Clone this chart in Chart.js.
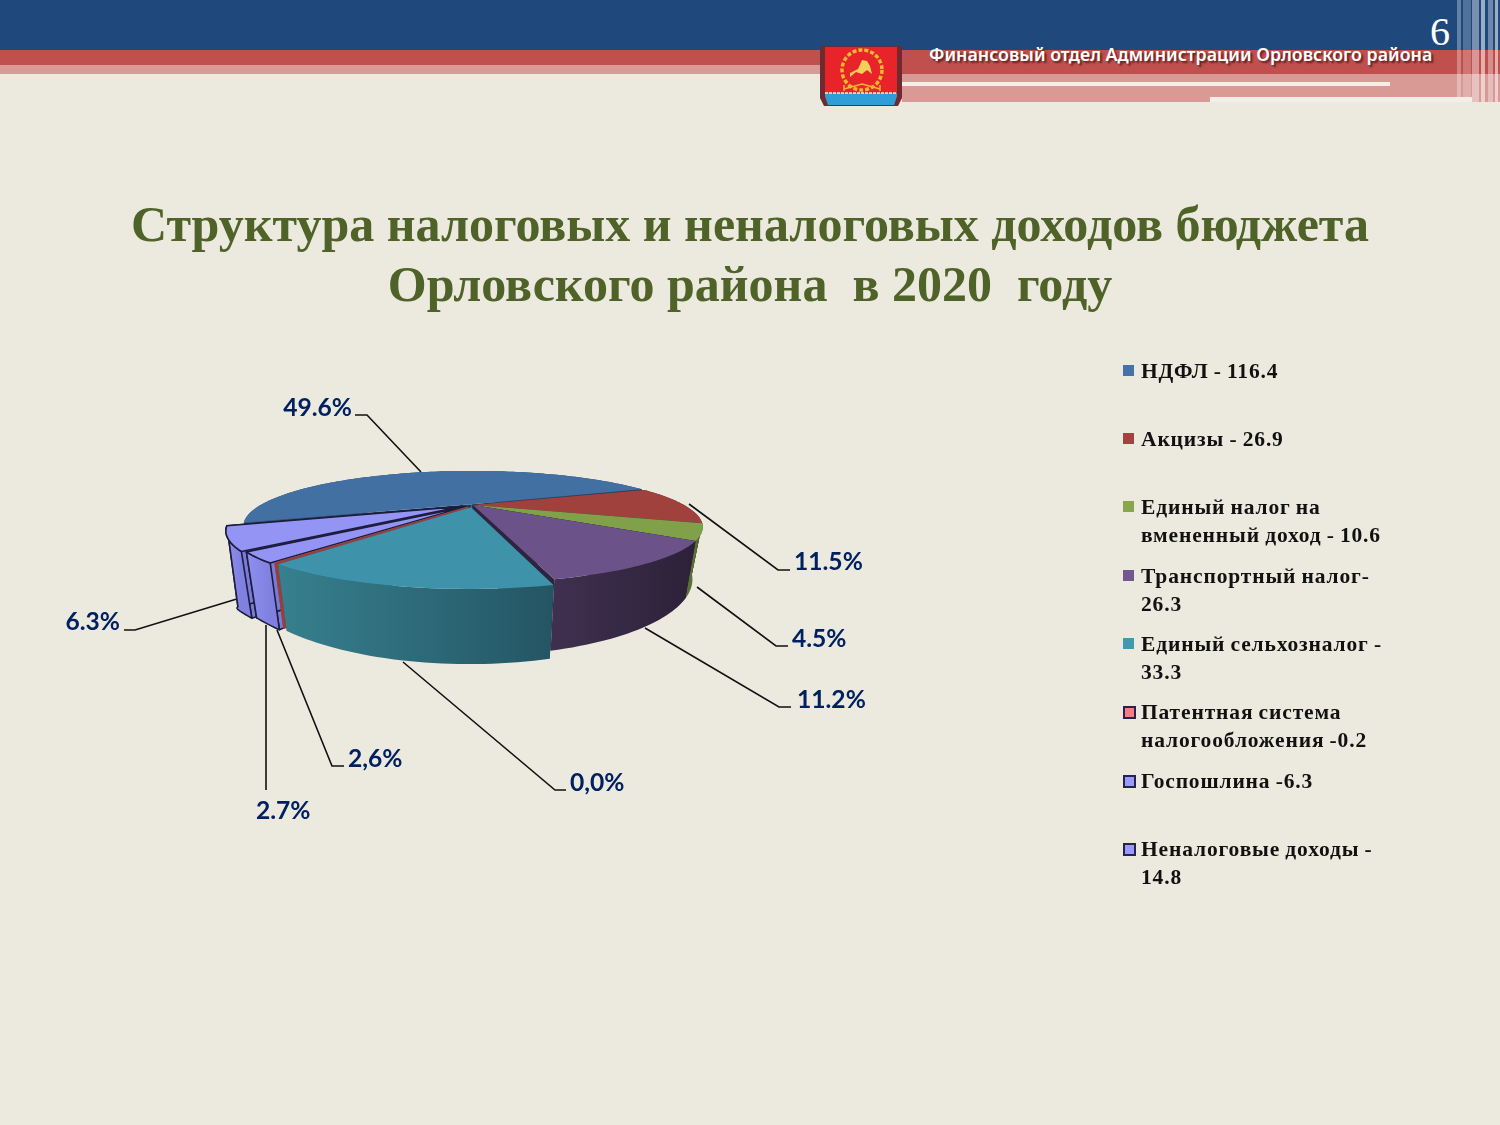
<!DOCTYPE html>
<html>
<head>
<meta charset="utf-8">
<script src="https://cdn.jsdelivr.net/npm/chart.js@4"></script>
<style>
html, body { margin: 0; padding: 0; background: #eceadf; }
#page { position: relative; width: 1500px; height: 1125px; overflow: hidden; background: #eceadf; }
#page div, #page svg, #page h1, #page canvas { position: absolute; }
#chart { left: 0; top: 0; }
.band { left: 0; }
h1 { margin: 0; left: 0; width: 1500px; text-align: center; font: bold 50px/60px "Liberation Serif", serif; color: #4f6228; }
#office { left: 929px; top: 42px; white-space: nowrap; font: 600 17.8px/24px "Noto Sans", sans-serif; color: #fff; text-shadow: 2px 2px 2px #5c2020; }
#num { left: 1430px; top: 10px; font: 40px/44px "Liberation Serif", serif; color: #fff; }
.legItem { left: 1141px; white-space: nowrap; font: bold 21.5px/28px "Liberation Serif", serif; letter-spacing: 0.85px; word-spacing: -1px; color: #111; }
.legMark { left: 1123px; width: 11px; height: 11px; box-sizing: border-box; }
</style>
</head>
<body>
<div id="page">
  <div class="band" style="top:0;width:1500px;height:50px;background:#1f497d"></div>
  <div class="band" style="top:50px;width:1500px;height:15px;background:#c0504d"></div>
  <div class="band" style="top:65px;width:820px;height:9px;background:#d99a96"></div>
  <div class="band" style="left:902px;top:65px;width:598px;height:9px;background:#c0504d"></div>
  <div class="band" style="left:902px;top:74px;width:598px;height:28px;background:#d99a96"></div>
  <div class="band" style="left:902px;top:82px;width:488px;height:4px;background:#f2efe6"></div>
  <div class="band" style="left:1210px;top:97px;width:262px;height:5px;background:#f2efe6"></div>
  <div style="left:1457px;top:0;width:4px;height:97px;background:rgba(255,255,255,.3)"></div>
  <div style="left:1463px;top:0;width:8px;height:97px;background:rgba(255,255,255,.22)"></div>
  <div style="left:1472px;top:0;width:7px;height:102px;background:rgba(255,255,255,.4)"></div>
  <div style="left:1481px;top:0;width:4px;height:102px;background:rgba(255,255,255,.55)"></div>
  <div style="left:1488px;top:0;width:5px;height:102px;background:rgba(255,255,255,.35)"></div>
  <div style="left:1495px;top:0;width:3px;height:102px;background:rgba(255,255,255,.55)"></div>
  <svg style="left:820px;top:46px" width="82" height="60" viewBox="0 0 82 60">
    <path d="M0 0H82V52L78 60H4L0 52Z" fill="#6e2a2e"/>
    <path d="M5 1H77V50L74 59H8L5 50Z" fill="#e8232a"/>
    <path d="M5 47H77V50L74 59H8L5 50Z" fill="#2f9ed8"/>
    <path d="M5 47H77" stroke="#f4f4d8" stroke-width="1.5" stroke-dasharray="3 1"/>
    <circle cx="42" cy="24" r="20" fill="none" stroke="#f0b92e" stroke-width="3.5" stroke-dasharray="4 2"/>
    <path d="M30 27L38 23L42 14L47 15L50 20L52 28L47 24L42 28L36 26L30 31Z" fill="#f5cf5a"/>
    <path d="M24 43L42 38L60 43M24 39V45M60 39V45" fill="none" stroke="#f0b92e" stroke-width="1.5"/>
  </svg>
  <div id="office">Финансовый отдел Администрации Орловского района</div>
  <div id="num">6</div>
  <h1 style="top:194px">Структура налоговых и неналоговых доходов бюджета</h1>
  <h1 style="top:254px">Орловского района&nbsp; в 2020&nbsp; году</h1>
  <canvas id="chart" width="1500" height="1125"></canvas>
</div>

<script>
// данные
const categories = ['НДФЛ', 'Акцизы', 'Единый налог на вмененный доход', 'Транспортный налог',
    'Единый сельхозналог', 'Патентная система налогообложения', 'Госпошлина', 'Неналоговые доходы'];
const values = [116.4, 26.9, 10.6, 26.3, 33.3, 0.2, 6.3, 14.8];
const percentLabels = ['49.6%', '11.5%', '4.5%', '11.2%', '0,0%', '2,6%', '2.7%', '6.3%'];
const legendLines = [
    ['НДФЛ - 116.4'],
    ['Акцизы - 26.9'],
    ['Единый налог на', 'вмененный доход - 10.6'],
    ['Транспортный налог-', '26.3'],
    ['Единый сельхозналог -', '33.3'],
    ['Патентная система', 'налогообложения -0.2'],
    ['Госпошлина -6.3'],
    ['Неналоговые доходы -', '14.8']
];

// цвета
const topColors = ['#4270a3', '#a0413e', '#80a04a', '#6b5288', '#3e92a9', '#a5423f', '#9494f5', '#9494f5'];
const wallLight = ['#2f5378', '#7a302e', '#5a7034', '#403050', '#37808f', '#96403e', '#8f8ff0', '#8f8ff0'];
const wallDark = ['#24405e', '#5f2624', '#43552a', '#2c2138', '#245564', '#96403e', '#8080e0', '#8080e0'];
const faceColors = ['#1c3a58', '#5f2624', '#43552a', '#2e2340', '#245564', '#96403e', '#7a7ad8', '#7a7ad8'];
const legendColors = ['#4473a7', '#a5423f', '#89a54e', '#71588f', '#4198af', '#f08080', '#9999ff', '#9999ff'];
const sliceOffsets = [5, 0, 0, 0, 12, 10, 13, 16];
const outlined = [false, false, false, false, false, false, true, true];
const legendOutlined = [false, false, false, false, false, true, true, true];

// выноски: точки линии и подпись
const leaders = [
    { pts: [[421, 472], [367, 415], [355, 415]], x: 352, y: 408, align: 'right' },
    { pts: [[689, 504], [778, 570], [790, 570]], x: 794, y: 562, align: 'left' },
    { pts: [[697, 587], [776, 646], [788, 646]], x: 792, y: 639, align: 'left' },
    { pts: [[645, 628], [779, 707], [791, 707]], x: 797, y: 700, align: 'left' },
    { pts: [[403, 662], [555, 790], [566, 790]], x: 570, y: 783, align: 'left' },
    { pts: [[277, 630], [332, 766], [344, 766]], x: 348, y: 759, align: 'left' },
    { pts: [[266, 625], [266, 790]], x: 256, y: 811, align: 'left' },
    { pts: [[240, 598], [135, 630], [124, 630]], x: 120, y: 622, align: 'right' }
];

// перспектива круга
const view = { cx: 473, cy: 505, a: 211, b: 47, k: 0.396, depth: 44, shrink: 0.955, leftSag: 0.6 };
const drawOrder = [0, 1, 2, 7, 6, 5, 3, 4];

function project(u, v, bottom) {
    let w = 1 - view.k * v;
    let x = view.a * u / w;
    let y = view.cy + view.b * v / w;
    if (bottom) {
        x = x * view.shrink;
        // слева на оригинале стенка заметно выше
        let sag = 1 + view.leftSag * Math.pow(Math.max(0, -u), 8);
        y = y + view.depth * sag / w;
    }
    return [view.cx + x, y];
}

function fillPoly(ctx, pts, fill, line) {
    ctx.beginPath();
    pts.forEach((p, i) => i ? ctx.lineTo(p[0], p[1]) : ctx.moveTo(p[0], p[1]));
    ctx.closePath();
    ctx.fillStyle = fill;
    ctx.fill();
    if (line) {
        ctx.strokeStyle = '#1c1c3c';
        ctx.lineWidth = 1.6;
        ctx.stroke();
    }
}

function drawSlice(ctx, el, i) {
    let R = el.outerRadius;
    let mid = (el.startAngle + el.endAngle) / 2;
    let off = el.options.offset / R;
    let su = Math.cos(mid) * off;
    let sv = Math.sin(mid) * off;
    let steps = Math.max(4, Math.ceil((el.endAngle - el.startAngle) * 40));
    let topArc = [], botArc = [];
    for (let s = 0; s <= steps; s++) {
        let t = el.startAngle + (el.endAngle - el.startAngle) * s / steps;
        topArc.push(project(su + Math.cos(t), sv + Math.sin(t), false));
        botArc.push(project(su + Math.cos(t), sv + Math.sin(t), true));
    }
    let apexTop = project(su, sv, false);
    let apexBot = project(su, sv, true);
    let line = outlined[i];

    fillPoly(ctx, [apexTop, topArc[0], botArc[0], apexBot], faceColors[i], line);
    fillPoly(ctx, [apexTop, topArc[steps], botArc[steps], apexBot], faceColors[i], line);

    let xs = topArc.map(p => p[0]);
    let grad = ctx.createLinearGradient(Math.min(...xs), 0, Math.max(...xs), 0);
    grad.addColorStop(0, wallLight[i]);
    grad.addColorStop(1, wallDark[i]);
    fillPoly(ctx, topArc.concat(botArc.slice().reverse()), grad, line);

    fillPoly(ctx, [apexTop].concat(topArc), topColors[i], line);
}

const pie3d = {
    id: 'pie3d',
    beforeDatasetsDraw(chart) {
        let ctx = chart.ctx;
        ctx.save();
        ctx.strokeStyle = '#111';
        ctx.lineWidth = 1.6;
        leaders.forEach(l => {
            ctx.beginPath();
            l.pts.forEach((p, i) => i ? ctx.lineTo(p[0], p[1]) : ctx.moveTo(p[0], p[1]));
            ctx.stroke();
        });
        ctx.restore();
    },
    // родной рисунок дуг заменён: углы берём из элементов Chart.js
    beforeDatasetDraw(chart, args) {
        let ctx = chart.ctx;
        let arcs = chart.getDatasetMeta(args.index).data;
        ctx.save();
        ctx.lineJoin = 'round';
        drawOrder.forEach(i => drawSlice(ctx, arcs[i], i));
        ctx.restore();
        return false;
    },
    afterDatasetsDraw(chart) {
        let ctx = chart.ctx;
        ctx.save();
        ctx.font = 'bold 24.6px Lato, sans-serif';
        ctx.fillStyle = '#002060';
        ctx.textBaseline = 'middle';
        leaders.forEach((l, i) => {
            ctx.textAlign = l.align;
            ctx.fillText(percentLabels[i], l.x, l.y);
        });
        ctx.restore();
    }
};

new Chart(document.getElementById('chart').getContext('2d'), {
    type: 'pie',
    data: {
        labels: categories,
        datasets: [{
            data: values,
            backgroundColor: topColors,
            offset: sliceOffsets,
            borderWidth: 0
        }]
    },
    options: {
        responsive: false,
        animation: false,
        rotation: 250,
        layout: { padding: 300 },
        plugins: {
            legend: { display: false },
            tooltip: { enabled: false }
        }
    },
    plugins: [pie3d]
});

// легенда
const legendTops = [357, 425, 493, 562, 630, 698, 767, 835];
let page = document.getElementById('page');
legendLines.forEach((lines, i) => {
    let mark = document.createElement('div');
    mark.className = 'legMark';
    mark.style.top = (legendTops[i] + 8) + 'px';
    mark.style.background = legendColors[i];
    if (legendOutlined[i]) {
        mark.style.border = '2px solid #24244a';
        mark.style.width = '13px';
        mark.style.height = '13px';
    }
    page.appendChild(mark);
    let item = document.createElement('div');
    item.className = 'legItem';
    item.style.top = legendTops[i] + 'px';
    item.innerHTML = lines.join('<br>');
    page.appendChild(item);
});
</script>
</body>
</html>
